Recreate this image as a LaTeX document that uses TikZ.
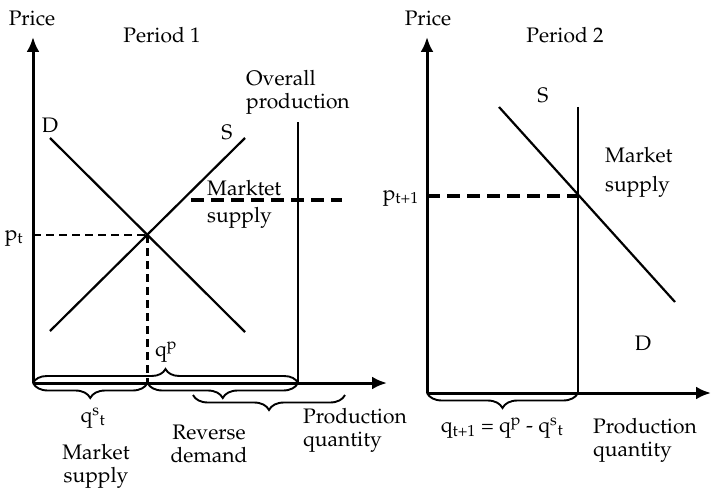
\documentclass[tikz,border=0pt]{standalone}
\usepackage[T1]{fontenc}
\usepackage{mathpazo}
\usetikzlibrary{arrows.meta,decorations.pathreplacing}
\begin{document}
\begin{tikzpicture}[x=1pt,y=-1pt,
  txt/.style={font=\fontsize{21}{23}\selectfont, inner sep=0pt},
  axis/.style={line width=3pt, -{Latex[length=15pt,width=13pt]}},
  curve/.style={line width=2.2pt},
  thickdash/.style={line width=3.8pt, dash pattern=on 13pt off 7pt},
  thindash/.style={line width=2.2pt, dash pattern=on 8pt off 5pt},
  bracebot/.style={decorate, decoration={brace, mirror, amplitude=15pt}, line width=1.9pt},
  bracetop/.style={decorate, decoration={brace, amplitude=14pt}, line width=1.9pt}]
\useasboundingbox (0,0) rectangle (711,492);
% ---------- Period 1 ----------
\coordinate (O1) at (33,383);
\coordinate (Y1) at (33,37);
\coordinate (X1) at (387,383);
\coordinate (Dt) at (50,138);
\coordinate (Db) at (245,332);
\coordinate (Sb) at (50,331);
\coordinate (St) at (245,138);
\coordinate (E1) at (147.5,235);
\coordinate (E1y) at (33,235);
\coordinate (E1x) at (147.5,383);
\coordinate (OPt) at (298,122);
\coordinate (OPb) at (298,383);
\coordinate (MSl) at (191,200);
\coordinate (MSr) at (342,200);
\coordinate (B3l) at (193,395);
\coordinate (B3r) at (345,395);
\draw[axis] (O1) -- (Y1);
\draw[axis] (O1) -- (X1);
\draw[curve] (Dt) -- (Db);
\draw[curve] (Sb) -- (St);
\draw[curve] (OPt) -- (OPb);
\draw[thindash] (E1y) -- (E1);
\draw[thindash] (E1) -- (E1x);
\draw[thickdash] (MSl) -- (MSr);
\draw[bracetop] (O1) -- (OPb);
\draw[bracebot] (O1) -- (E1x);
\draw[bracebot] (E1x) -- (OPb);
\draw[bracebot] (B3l) -- (B3r);
\node[txt] (price1) at (32,18) {Price};
\node[txt] (per1) at (162,35) {Period 1};
\node[txt, align=left, anchor=west] (overall) at (246,92.5) {Overall\\production};
\node[txt] (D1) at (50,125) {D};
\node[txt] (S1) at (227,132) {S};
\node[txt, anchor=west] (mkt1) at (207,188) {Marktet};
\node[txt, anchor=west] (sup1) at (207,218) {supply};
\node[txt] (pt) at (14,238) {p\textsubscript{t}};
\node[txt] (qp) at (166,352) {q\textsuperscript{p}};
\node[txt] (qst) at (93,418) {q\textsuperscript{s}\textsubscript{t}};
\node[txt, align=center] (msup) at (96,466.5) {Market\\supply};
\node[txt, align=center] (rdem) at (209,444) {Reverse\\demand};
\node[txt, align=left, anchor=west] (pq1) at (303,430) {Production\\quantity};
% ---------- Period 2 ----------
\coordinate (O2) at (427,393);
\coordinate (Y2) at (427,37);
\coordinate (X2) at (711,393);
\coordinate (S2t) at (499,107);
\coordinate (S2b) at (675,302);
\coordinate (V2t) at (578,107);
\coordinate (V2b) at (578,393);
\coordinate (E2) at (578,196);
\coordinate (E2y) at (427,196);
\draw[axis] (O2) -- (Y2);
\draw[axis] (O2) -- (X2);
\draw[curve] (S2t) -- (S2b);
\draw[curve] (V2t) -- (V2b);
\draw[thickdash] (E2y) -- (E2);
\draw[bracebot] (O2) -- (V2b);
\node[txt] (price2) at (428,18) {Price};
\node[txt] (per2) at (565,35) {Period 2};
\node[txt] (S2) at (543,95) {S};
\node[txt, anchor=west] (mkt2) at (605,155) {Market};
\node[txt, anchor=west] (sup2) at (605,187) {supply};
\node[txt, anchor=east] (pt1) at (419,198) {p\textsubscript{t+1}};
\node[txt] (D2) at (643,343) {D};
\node[txt] (qt1) at (502,428) {q\textsubscript{t+1} = q\textsuperscript{p} - q\textsuperscript{s}\textsubscript{t}};
\node[txt, align=left, anchor=west] (pq2) at (593,440) {Production\\quantity};
\end{tikzpicture}
\end{document}
